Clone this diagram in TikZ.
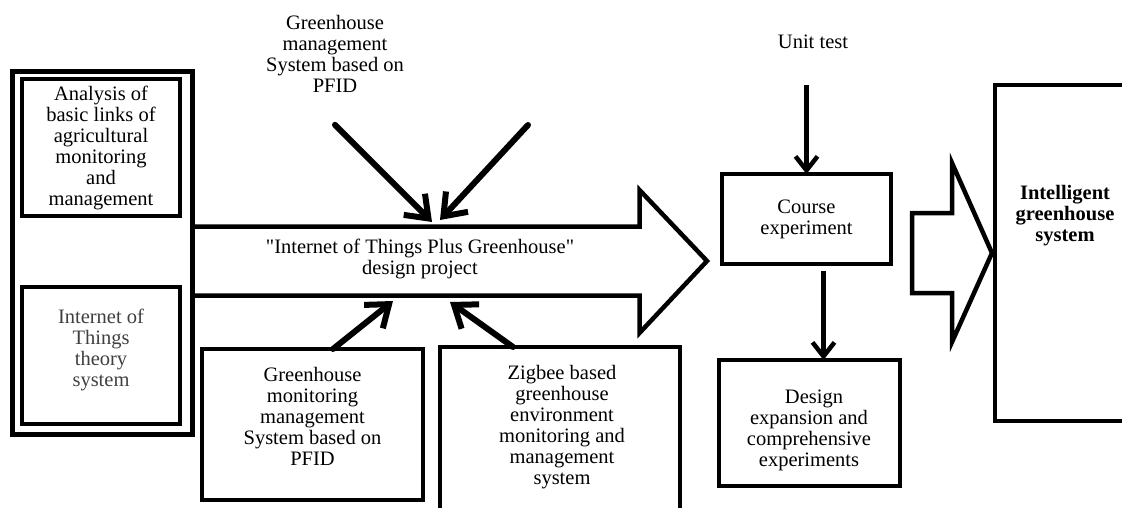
\documentclass[tikz,border=0pt]{standalone}
\usepackage{fontspec}
\setmainfont{Liberation Serif}
\usetikzlibrary{arrows.meta}

\tikzset{
  txt/.style={align=center, font=\fontsize{20.5}{21}\selectfont, inner sep=0pt},
  box/.style={txt, draw, line width=4.5pt, inner sep=0pt, outer sep=0pt},
  fatarr/.style={line width=6pt, -{Straight Barb[length=20pt,width=30pt]}},
  thinarr/.style={line width=4.5pt, -{Straight Barb[length=14pt,width=22pt]}},
  bigarrow/.style={line width=4.5pt, line join=miter},
}

\begin{document}
\begin{tikzpicture}[x=1pt,y=-1pt]
\clip (0,0) rectangle (1122,508);

%Left frame
\draw[line width=5pt] (12,71.5) rectangle (192,434.5);
\node[box, minimum width=158pt, minimum height=137pt] (ana) at (101,147.5)
  {Analysis of\\basic links of\\agricultural\\monitoring\\and\\management};
\node[box, minimum width=158pt, minimum height=137pt] (iot) at (101,355.5) {};
\node[txt, text=black!75] (iottxt) at (101,350) {Internet of\\Things\\theory\\system};

%Big arrow 1
\draw[bigarrow] (192,226.5) -- (639.5,226.5) -- (639.5,190) -- (707,261)
  -- (639.5,333) -- (639.5,295.5) -- (192,295.5);
\node[txt] (proj) at (420,259) {\textquotedbl Internet of Things Plus Greenhouse\textquotedbl\\design project};
\coordinate (topin1) at (432,222);
\coordinate (topin2) at (440,220);
\coordinate (botin1) at (393,301);
\coordinate (botin2) at (450,302);

%Top input
\node[txt] (grn) at (335,54) {Greenhouse\\management\\System based on\\PFID};
\coordinate (free) at (528,125);
\draw[fatarr, line cap=round] ([yshift=-32pt]grn.south) -- (topin1);
\draw[fatarr, line cap=round] (free) -- (topin2);

%Bottom inputs
\node[box, minimum width=221pt, minimum height=151pt] (mon) at (312.5,424.5) {};
\node[txt] (montxt) at (312.5,416) {Greenhouse\\monitoring\\management\\System based on\\PFID};
\node[box, minimum width=240pt, minimum height=190pt] (zig) at (560,442) {};
\node[txt] (zigtxt) at (562,427) {Zigbee based\\greenhouse\\environment\\monitoring and\\management\\system};
\draw[fatarr, line cap=round] ([xshift=20.5pt]mon.north) -- (botin1);
\draw[fatarr, line cap=round] ([xshift=-47pt]zig.north) -- (botin2);

%Right part
\node[txt] (unit) at (813,42) {Unit test};
\node[box, minimum width=169pt, minimum height=90pt] (crs) at (806.5,219) {Course\\experiment};
\node[box, minimum width=181pt, minimum height=126pt] (dsn) at (809.5,423) {};
\node[txt] (dsntxt) at (809,430) {\hspace*{10pt}Design\\expansion and\\comprehensive\\experiments};
\draw[thinarr] (crs.north |- unit.south) ++(0,36) -- (crs.north);
\draw[thinarr] ([xshift=17pt,yshift=-7pt]crs.south) -- ([xshift=17pt]crs.south |- dsn.north);

%Big arrow 2
\draw[bigarrow] (912,213) -- (952,213) -- (952,163) -- (992,253)
  -- (952,342) -- (952,293) -- (912,293) -- cycle;

\node[box, minimum width=150pt, minimum height=336pt] (intel) at (1070,253) {};
\node[txt, font=\fontsize{20.5}{21}\selectfont\bfseries] (inteltxt) at (1065,216)
  {Intelligent\\greenhouse\\system};

\end{tikzpicture}
\end{document}
